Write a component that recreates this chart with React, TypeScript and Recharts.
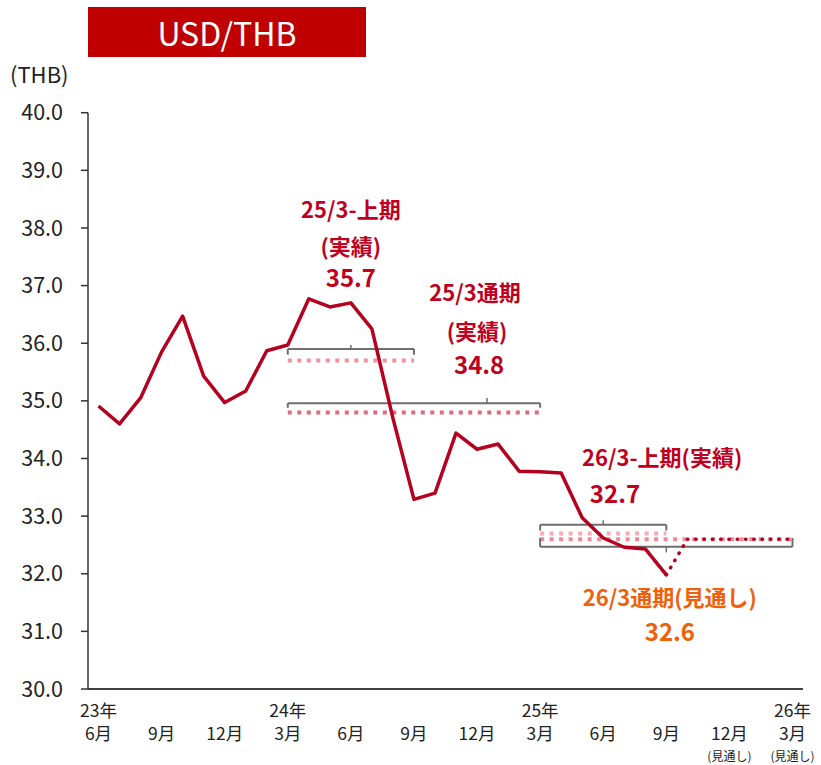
import React from "react";
import {
  ComposedChart,
  Line,
  XAxis,
  YAxis,
  ReferenceLine,
  ReferenceDot,
} from "recharts";

const FONT = '"Noto Sans CJK JP", "Noto Sans", sans-serif';

// monthly USD/THB, Jun 2023 .. Sep 2025 (actual)
const actual = [
  34.91, 34.6, 35.05, 35.85, 36.47, 35.43, 34.97, 35.17, 35.87, 35.97, 36.77, 36.63,
  36.7, 36.25, 34.7, 33.29, 33.4, 34.44, 34.16, 34.25, 33.78, 33.77, 33.75, 32.97,
  32.62, 32.46, 32.43, 31.98,
];
// Oct 2025 .. Mar 2026 (forecast)
const forecast = [32.6, 32.6, 32.6, 32.6, 32.6, 32.6];

// period averages: [start index, end index, value]
const periodKeys = ["h1", "h2", "h3", "h4"];
const periodValues = [35.7, 34.8, 32.7, 32.6];
const periodStart = [9, 9, 21, 21];
const periodEnd = [15, 21, 27, 33];
const periodColors = ["#f3909c", "#e26a7a", "#f8aab5", "#f08a98"];

const tickIndex = [0, 3, 6, 9, 12, 15, 18, 21, 24, 27, 30, 33];
const tickYear = ["23年", "", "", "24年", "", "", "", "25年", "", "", "", "26年"];
const tickMonth = ["6月", "9月", "12月", "3月", "6月", "9月", "12月", "3月", "6月", "9月", "12月", "3月"];
const tickNote = ["", "", "", "", "", "", "", "", "", "", "(見通し)", "(見通し)"];

const yTicks = [30, 31, 32, 33, 34, 35, 36, 37, 38, 39, 40];

// bracket marks: span, bar level, end level, centre tick position and level
const brackets = [
  { from: 9, to: 15, y: 35.9, end: 35.8, tx: 12, ty: 35.97 },
  { from: 9, to: 21, y: 34.96, end: 34.88, tx: 18.47, ty: 35.05 },
  { from: 21, to: 27, y: 32.85, end: 32.75, tx: 24, ty: 32.93 },
  { from: 21, to: 33, y: 32.47, end: 32.62, tx: 27, ty: 32.37 },
];

const RED = "#c0001e";
const ORANGE = "#f0600a";

const notes = [
  { x: 12, y: 38.31, text: "25/3-上期", color: RED, size: 22 },
  { x: 12, y: 37.67, text: "(実績)", color: RED, size: 22 },
  { x: 12, y: 37.12, text: "35.7", color: RED, size: 24 },
  { x: 17.9, y: 36.87, text: "25/3通期", color: RED, size: 22 },
  { x: 18, y: 36.2, text: "(実績)", color: RED, size: 22 },
  { x: 18.1, y: 35.62, text: "34.8", color: RED, size: 24 },
  { x: 26.8, y: 34.01, text: "26/3-上期(実績)", color: RED, size: 22 },
  { x: 24.56, y: 33.37, text: "32.7", color: RED, size: 24 },
  { x: 27.17, y: 31.58, text: "26/3通期(見通し)", color: ORANGE, size: 22 },
  { x: 27.17, y: 30.98, text: "32.6", color: ORANGE, size: 24 },
];

const last = actual.length - 1;
const rows = Array.from({ length: actual.length + forecast.length }, (_, i) => {
  const row: Record<string, number | null> = {
    i,
    actual: i <= last ? actual[i] : null,
    forecast: i === last ? actual[last] : i > last ? forecast[i - last - 1] : null,
  };
  periodKeys.forEach((k, n) => {
    row[k] = i >= periodStart[n] && i <= periodEnd[n] ? periodValues[n] : null;
  });
  return row;
});

function XTick(props: any) {
  const { x, y, payload } = props;
  const n = tickIndex.indexOf(payload.value);
  return (
    <g transform={`translate(${x},${y})`}>
      <text textAnchor="middle" fontFamily={FONT} fill="#222" fontSize={17.5}>
        <tspan x={0} y={27.5}>{tickYear[n]}</tspan>
        <tspan x={0} y={51}>{tickMonth[n]}</tspan>
        <tspan x={0} y={72} fontSize={12}>{tickNote[n]}</tspan>
      </text>
    </g>
  );
}

export default function App() {
  return (
    <div style={{ position: "absolute", left: 0, top: 0, width: 821, height: 765, background: "#fff" }}>
      <div
        style={{
          position: "absolute",
          left: 88,
          top: 7,
          width: 278,
          height: 50,
          background: "#c00000",
          color: "#fff",
          fontFamily: FONT,
          fontSize: 32,
          lineHeight: "50px",
          textAlign: "center",
        }}
      >
        USD/THB
      </div>
      <div
        style={{
          position: "absolute",
          left: 10,
          top: 58,
          fontFamily: FONT,
          fontSize: 22,
          lineHeight: "30px",
          color: "#222",
        }}
      >
        (THB)
      </div>
      <ComposedChart
        width={821}
        height={765}
        data={rows}
        margin={{ top: 112.7, right: 18, bottom: 6, left: 0 }}
      >
        <XAxis
          type="number"
          dataKey="i"
          domain={[-0.5, 33.5]}
          ticks={tickIndex}
          interval={0}
          tick={<XTick />}
          tickLine={false}
          tickSize={0}
          tickMargin={0}
          height={70}
          axisLine={{ stroke: "#404040", strokeWidth: 2 }}
        />
        <YAxis
          domain={[30, 40]}
          ticks={yTicks}
          interval={0}
          width={88}
          tickSize={7}
          tickMargin={18}
          tickFormatter={(v) => v.toFixed(1)}
          tick={{ fill: "#222", fontSize: 21.5, fontFamily: FONT }}
          tickLine={{ stroke: "#333", strokeWidth: 1.5 }}
          axisLine={{ stroke: "#333", strokeWidth: 1.5 }}
        />
        {periodKeys.map((k, n) => (
          <Line
            key={k}
            dataKey={k}
            type="linear"
            stroke={periodColors[n]}
            strokeWidth={4}
            strokeDasharray="4 5.5"
            dot={false}
            activeDot={false}
            isAnimationActive={false}
          />
        ))}
        {brackets.flatMap((b, n) => [
          <ReferenceLine key={`h${n}`} segment={[{ x: b.from, y: b.y }, { x: b.to, y: b.y }]} stroke="#6e6e6e" strokeWidth={2} />,
          <ReferenceLine key={`l${n}`} segment={[{ x: b.from, y: b.y }, { x: b.from, y: b.end }]} stroke="#6e6e6e" strokeWidth={2} />,
          <ReferenceLine key={`r${n}`} segment={[{ x: b.to, y: b.y }, { x: b.to, y: b.end }]} stroke="#6e6e6e" strokeWidth={2} />,
          <ReferenceLine key={`t${n}`} segment={[{ x: b.tx, y: b.y }, { x: b.tx, y: b.ty }]} stroke="#6e6e6e" strokeWidth={1.5} />,
        ])}
        <Line
          dataKey="forecast"
          type="linear"
          stroke="#b5001f"
          strokeWidth={3.5}
          strokeDasharray="0.5 7.8"
          strokeLinecap="round"
          dot={false}
          activeDot={false}
          isAnimationActive={false}
        />
        <Line
          dataKey="actual"
          type="linear"
          stroke="#b5001f"
          strokeWidth={3.5}
          strokeLinejoin="round"
          dot={false}
          activeDot={false}
          isAnimationActive={false}
        />
        {notes.map((a, n) => (
          <ReferenceDot
            key={`n${n}`}
            x={a.x}
            y={a.y}
            r={0}
            stroke="none"
            fill="none"
            label={{
              value: a.text,
              position: "center",
              fill: a.color,
              fontSize: a.size,
              fontWeight: 700,
              fontFamily: FONT,
            }}
          />
        ))}
      </ComposedChart>
    </div>
  );
}
